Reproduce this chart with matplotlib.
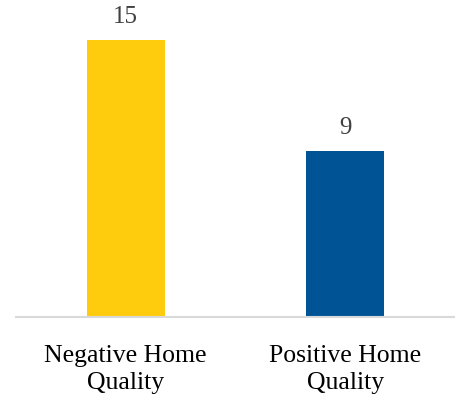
import matplotlib

matplotlib.use("Agg")

import matplotlib.pyplot as plt

categories = ["Negative Home\nQuality", "Positive Home\nQuality"]
values = [15, 9]
colors = ["#FFCC0D", "#005496"]

fig = plt.figure(figsize=(4.55, 3.99), dpi=100)
ax = fig.add_axes([16 / 455, 1 - 317 / 399, 439 / 455, 277 / 399])

x = range(len(categories))
bars = ax.bar(x, values, width=0.355, color=colors)
for bar, v in zip(bars, values):
    ax.annotate(str(v), (bar.get_x() + bar.get_width() / 2, v),
                xytext=(0, 12), textcoords="offset points",
                ha="center", va="baseline", fontsize=18,
                family="Liberation Serif", color="#404040",
                annotation_clip=False)

ax.set_xlim(-0.5, 1.5)
ax.set_ylim(0, 15)
ax.set_yticks([])
ax.set_xticks(list(x))
ax.set_xticklabels(categories, fontsize=18.5, family="Liberation Serif",
                   color="#000000", linespacing=1.3)
ax.tick_params(axis="x", length=0, pad=20)
for side in ["top", "right", "left"]:
    ax.spines[side].set_visible(False)
ax.spines["bottom"].set_color("#D9D9D9")
ax.spines["bottom"].set_linewidth(1.5)

fig.savefig("out.png", dpi=100)
plt.close(fig)
